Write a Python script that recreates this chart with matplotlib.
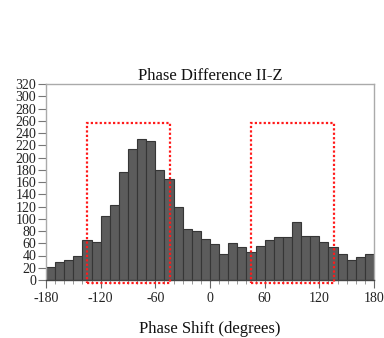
import numpy as np
import matplotlib
matplotlib.use("Agg")
import matplotlib.pyplot as plt
from matplotlib.patches import Rectangle
from matplotlib.ticker import MultipleLocator

# Histogram of phase differences, 10-degree bins from -180 to 180
bin_edges = list(range(-180, 181, 10))
counts = [22, 29, 33, 40, 65, 62, 105, 122, 176, 214, 231, 227,
          179, 165, 119, 83, 80, 67, 59, 42, 60, 54, 45, 55,
          65, 71, 70, 94, 72, 72, 62, 54, 42, 33, 37, 42]

# Highlighted regions (phase range, count range)
regions = [(-135, -44, -5, 257), (45, 136, -5, 257)]

title = "Phase Difference II-Z"
xlabel = "Phase Shift (degrees)"
xticks = [-180, -120, -60, 0, 60, 120, 180]
yticks = list(range(0, 321, 20))

plt.rcParams["font.family"] = ["Liberation Serif", "DejaVu Serif"]

fig = plt.figure(figsize=(3.84, 3.38), dpi=100)
ax = fig.add_axes([46 / 384, 58 / 338, 328 / 384, 196 / 338])

left = np.array(bin_edges[:-1])
widths = np.diff(bin_edges)
ax.bar(left, counts, width=widths, align="edge", color="#5c5c5c",
       edgecolor="#363636", linewidth=0.8)

for x0, x1, y0, y1 in regions:
    ax.add_patch(Rectangle((x0, y0), x1 - x0, y1 - y0, fill=False,
                           edgecolor="#ff1a1a", linestyle=(0, (1, 1)),
                           linewidth=1.6, clip_on=False, zorder=5))

ax.set_xlim(-180, 180)
ax.set_ylim(0, 320)
ax.set_xticks(xticks)
ax.set_xticklabels([str(v) for v in xticks])
ax.xaxis.set_minor_locator(MultipleLocator(10))
ax.set_yticks(yticks)

ax.tick_params(axis="both", labelsize=10, colors="#222222", direction="out")
ax.tick_params(axis="x", which="major", length=6, width=0.8, color="#666666", pad=3)
ax.tick_params(axis="x", which="minor", length=3, width=0.6, color="#888888")
ax.tick_params(axis="y", which="major", length=6, width=0.8, color="#777777", pad=1)

for side in ("top", "right", "left"):
    ax.spines[side].set_color("#aaaaaa")
    ax.spines[side].set_linewidth(1.0)
ax.spines["bottom"].set_color("#444444")
ax.spines["bottom"].set_linewidth(1.0)

ax.set_title(title, fontsize=12, pad=2, color="#111111")
ax.set_xlabel(xlabel, fontsize=12, labelpad=11, color="#111111")

fig.savefig("out.png", dpi=100)
